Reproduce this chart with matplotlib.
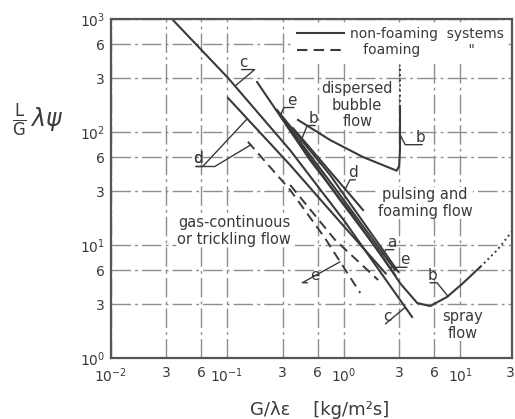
import matplotlib
matplotlib.use("Agg")
import matplotlib.pyplot as plt
from matplotlib.lines import Line2D
from matplotlib.ticker import FixedLocator, FixedFormatter, NullLocator

INK = "#3a3a3a"
GRID = "#8e8e8e"

# --- axes ticks --------------------------------------------------------------
x_ticks = [0.01, 0.03, 0.06, 0.1, 0.3, 0.6, 1, 3, 6, 10]
x_labels = [r"$10^{-2}$", "3", "6", r"$10^{-1}$", "3", "6",
            r"$10^{0}$", "3", "6", r"$10^{1}$"]
y_ticks = [1, 3, 6, 10, 30, 60, 100, 300, 600, 1000]
y_labels = [r"$10^{0}$", "3", "6", r"$10^{1}$", "3", "6",
            r"$10^{2}$", "3", "6", r"$10^{3}$"]

# --- non-foaming boundaries (solid) -----------------------------------------
c_x = [0.0337, 0.102, 0.348, 1.03, 3.87]
c_y = [1000, 301, 69, 16, 2.31]

d_x = [0.102, 0.348, 0.933, 2.3]
d_y = [200, 51, 16, 5.6]

d2_x = [0.369, 1.47]
d2_y = [108, 20.4]

e_x = [0.181, 0.515, 1.14, 2.77]
e_y = [277, 56.5, 19.6, 5.4]

a_x = [0.268, 0.766, 2.27, 2.94]
a_y = [157, 41.6, 8.5, 5.8]

f_x = [0.285, 0.933, 2.77]
f_y = [141, 27.7, 6.0]

# b: bubble-flow boundary and pulsing/spray boundary
b_up_x = [0.406, 0.766, 1.47, 2.51, 2.85, 3.0, 3.05, 3.05]
b_up_y = [128, 85, 60, 48, 45.5, 50, 70, 166]
b_up_dot_x = [3.05, 3.05]
b_up_dot_y = [166, 392]

b_lo_x = [0.315, 0.933, 2.06, 3.05, 4.28, 5.53, 7.73, 10.6, 14.9]
b_lo_y = [120, 25, 8.5, 4.6, 3.07, 2.88, 3.47, 4.6, 6.4]
b_lo_dot_x = [14.9, 20.8, 28.5]
b_lo_dot_y = [6.4, 9.0, 13.6]

# --- foaming boundaries (dashed) ---------------------------------------------
fd_x = [0.151, 0.348, 0.693, 1.39]
fd_y = [82, 30.7, 11.5, 3.76]

fe_x = [0.348, 0.845, 1.98]
fe_y = [34, 11.1, 4.9]

# --- curve letters: text, label position, target point, relpos, angleB ------
letters = [
    ("c", (0.137, 416), (0.117, 255), (0, 0), 40),
    ("d", (0.0564, 57.7), (0.149, 131), (0, 0), -133),
    ("d", (0.0564, 57.7), (0.16, 77), (0, 0), -149),
    ("e", (0.361, 192), (0.285, 139), (1, 0), 65),
    ("b", (0.547, 133), (0.424, 80), (1, 0), 68),
    ("b", (4.54, 90), (3.05, 95), (1, 0), -63),
    ("d", (1.21, 44), (1.03, 31), (1, 0), 63),
    ("a", (2.6, 10.6), (2.18, 8.2), (1, 0), 63),
    ("e", (3.37, 7.4), (2.51, 6.25), (1, 0), 32),
    ("b", (5.75, 5.4), (7.9, 3.5), (0, 0), 129),
    ("c", (2.36, 2.31), (3.37, 2.8), (0, 0), -140),
    ("e", (0.569, 5.4), (0.933, 7.1), (0, 0), -151),
]

regions = [
    ("dispersed\nbubble\nflow", (1.31, 173)),
    ("pulsing and\nfoaming flow", (5.0, 23.5)),
    ("gas-continuous\nor trickling flow", (0.115, 13.3)),
    ("spray\nflow", (10.6, 1.96)),
]

fig = plt.figure(figsize=(5.15, 4.19), dpi=100, facecolor="white")
ax = fig.add_axes([0.2146, 0.1456, 0.7796, 0.809])
ax.set_xscale("log")
ax.set_yscale("log")
ax.set_xlim(0.01, 27.9)
ax.set_ylim(1, 1000)

ax.xaxis.set_major_locator(FixedLocator(x_ticks))
ax.xaxis.set_major_formatter(FixedFormatter(x_labels))
ax.yaxis.set_major_locator(FixedLocator(y_ticks))
ax.yaxis.set_major_formatter(FixedFormatter(y_labels))
ax.xaxis.set_minor_locator(NullLocator())
ax.yaxis.set_minor_locator(NullLocator())
ax.tick_params(length=0, labelsize=10, labelcolor=INK)
ax.tick_params(axis="x", pad=6)
ax.tick_params(axis="y", pad=4)
ax.grid(True, color=GRID, lw=1.0, linestyle=(0, (14, 3, 2, 3)))
for sp in ax.spines.values():
    sp.set_color("#555555")
    sp.set_linewidth(1.6)

# last tick label "3" at the right edge
ax.annotate("3", xy=(30, 0), xycoords=("data", "axes fraction"),
            xytext=(-1, -6), textcoords="offset points", ha="right",
            va="top", fontsize=10, color=INK, annotation_clip=False)

kw = dict(color=INK, lw=1.5)
for xs, ys in [(c_x, c_y), (d_x, d_y), (d2_x, d2_y), (e_x, e_y),
               (a_x, a_y), (f_x, f_y), (b_up_x, b_up_y), (b_lo_x, b_lo_y)]:
    ax.plot(xs, ys, **kw)
ax.plot(b_up_dot_x, b_up_dot_y, color=INK, lw=1.4, linestyle=":")
ax.plot(b_lo_dot_x, b_lo_dot_y, color=INK, lw=1.4, linestyle=":")
for xs, ys in [(fd_x, fd_y), (fe_x, fe_y)]:
    ax.plot(xs, ys, color=INK, lw=1.4, linestyle=(0, (5, 3)))

for txt, pos in regions:
    ax.text(pos[0], pos[1], txt, ha="center", va="center", fontsize=10.5,
            color=INK, linespacing=1.1, zorder=4,
            bbox=dict(facecolor="white", edgecolor="none", pad=0.5))

for txt, pos, target, rel, angb in letters:
    ax.annotate(txt, xy=target, xytext=pos, ha="center", va="center",
                fontsize=11, color=INK, zorder=5,
                arrowprops=dict(arrowstyle="-", color=INK, lw=1.0,
                                relpos=rel, patchA=None, shrinkB=0,
                                connectionstyle=f"angle,angleA=0,angleB={angb},rad=0"))

handles = [Line2D([], [], color=INK, lw=1.5),
           Line2D([], [], color=INK, lw=1.5, linestyle=(0, (5, 3)))]
leg = ax.legend(handles, ["non-foaming  systems", '   foaming           "'],
                loc="upper right", fontsize=10, handlelength=3.4,
                borderaxespad=0.3, labelspacing=0.15, frameon=True,
                facecolor="white", edgecolor="none", framealpha=1,
                borderpad=0.3, handletextpad=0.4)
for t in leg.get_texts():
    t.set_color(INK)

fig.text(0.074, 0.714, r"$\frac{\mathsf{L}}{\mathsf{G}}\,\lambda\psi$",
         fontsize=17, color=INK, ha="center", va="center")
fig.text(0.621, 0.022, "G/λε    [kg/m²s]", fontsize=13, color=INK,
         ha="center", va="center")

fig.savefig("out.png", dpi=100, facecolor="white")
